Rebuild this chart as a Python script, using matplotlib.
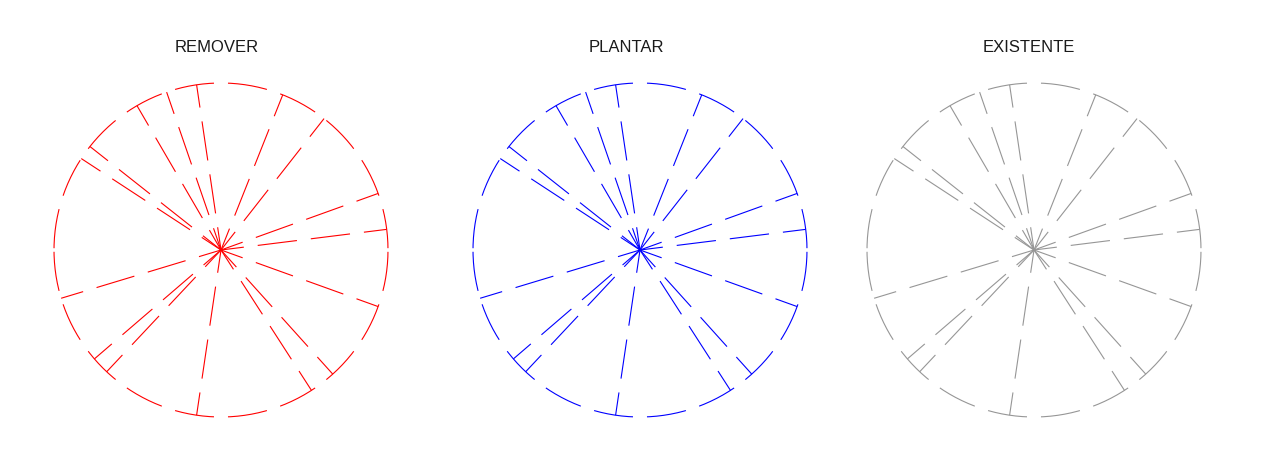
import numpy as np
import matplotlib
matplotlib.use('Agg')
import matplotlib.pyplot as plt

plt.rcParams['font.family'] = ['Liberation Sans', 'DejaVu Sans']
plt.rcParams['lines.scale_dashes'] = False

# data
titles = ['REMOVER', 'PLANTAR', 'EXISTENTE']
colors = ['#FF0000', '#0000FF', '#969696']
spoke_deg = [7.1, 19.8, 51.9, 68.3, 98.4, 109.0, 120.2, 141.7, 146.8,
             196.8, 220.7, 226.8, 261.6, 302.8, 312.0, 340.2]
spoke_len = [1.0, 1.0, 1.0, 1.0, 1.0, 1.0, 1.0, 1.0, 1.0,
             1.0, 1.0, 1.0, 1.0, 1.0, 1.0, 1.0]

W, H, DPI = 1273, 450, 100
centers_x = [221, 640, 1034]
title_x = [217, 626, 1029]
cy = 250
rad_px = 167

DASH_ON = 39.5 * 72 / DPI
DASH_OFF = 14 * 72 / DPI


def centred(length_pt):
    # put the middle of a gap at the middle of the path
    period = DASH_ON + DASH_OFF
    off = (DASH_ON + DASH_OFF / 2 - length_pt / 2) % period
    return (off, (DASH_ON, DASH_OFF))


fig = plt.figure(figsize=(W / DPI, H / DPI), dpi=DPI)
rad_pt = rad_px * 72 / DPI

for i in range(3):
    ax = fig.add_axes([(centers_x[i] - rad_px) / W, (H - cy - rad_px) / H,
                       2 * rad_px / W, 2 * rad_px / H], projection='polar')
    ax.set_ylim(0, 1)
    ax.axis('off')
    col = colors[i]
    rmax = max(spoke_len)

    # outline, two halves
    half = np.pi * rmax * rad_pt
    for sgn in (1, -1):
        th = np.linspace(0, sgn * np.pi, 300)
        ax.plot(th, np.full_like(th, rmax), color=col, lw=0.8,
                ls=centred(half), clip_on=False)

    # spokes
    for d, r in zip(spoke_deg, spoke_len):
        t = np.deg2rad(d)
        ax.plot([t, t], [r, 0], color=col, lw=0.8,
                ls=centred(r * rad_pt), clip_on=False)

    fig.text(title_x[i] / W, 1 - 47 / H, titles[i], ha='center', va='center',
             fontsize=12, color='#1a1a1a')

fig.savefig('out.png', dpi=DPI)
